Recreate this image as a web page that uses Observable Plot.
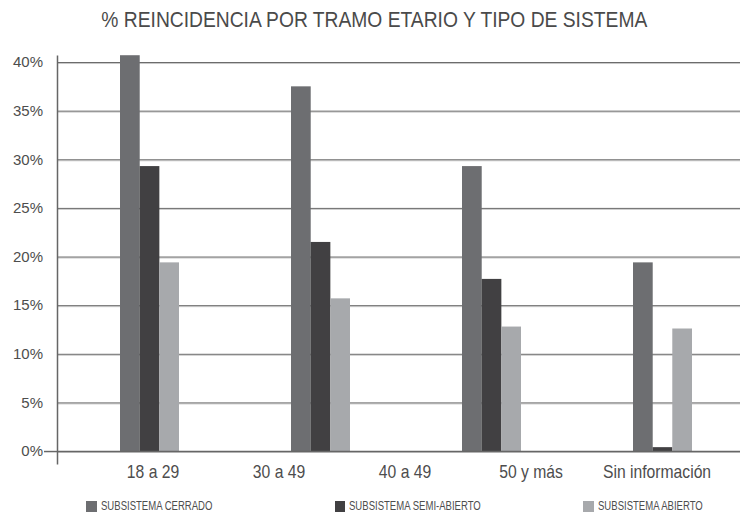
<!DOCTYPE html>
<html>
<head>
<meta charset="utf-8">
<script src="https://cdn.jsdelivr.net/npm/d3@7"></script>
<script src="https://cdn.jsdelivr.net/npm/@observablehq/plot@0.6"></script>
<style>
  body { margin: 0; background: #fff; }
  #chart { position: relative; width: 740px; height: 516px; overflow: hidden; background: #fff; color: #4d4d4d; }
  #title { position: absolute; left: 0; top: 8.9px; width: 748px; text-align: center;
           font-family: "Liberation Sans", Arial, sans-serif;
           font-size: 21.4px; line-height: 22px; color: #4a4a4a; white-space: nowrap; }
  #title span { display: inline-block; transform: scaleX(0.9); transform-origin: center; }
  .layer { position: absolute; left: 0; }
  .lg-item { position: absolute; top: 500.25px; height: 12px; display: flex; align-items: center;
             font-family: "Liberation Sans", Arial, sans-serif;
             font-size: 12.5px; line-height: 12px; color: #4d4d4d; white-space: nowrap; }
  .lg-sw { width: 10.5px; height: 10.5px; margin-right: 4.2px; flex: none; }
  .lg-tx { display: inline-block; transform: scaleX(0.764); transform-origin: left center; }
</style>
</head>
<body>
<div id="chart">
  <div id="title"><span>% REINCIDENCIA POR TRAMO ETARIO Y TIPO DE SISTEMA</span></div>
</div>
<script>
// ---- data ----
const barGroups = ["18 a 29", "30 a 49", "50 y más", "Sin información"];
const tickLabels = ["18 a 29", "30 a 49", "40 a 49", "50 y más", "Sin información"];
const seriesNames = ["SUBSISTEMA CERRADO", "SUBSISTEMA SEMI-ABIERTO", "SUBSISTEMA ABIERTO"];
const seriesColors = ["#6d6e71", "#414042", "#a7a9ac"];
const cerrado = [40.7, 37.5, 29.3, 19.4];
const semiAbierto = [29.3, 21.5, 17.7, 0.4];
const abierto = [19.4, 15.7, 12.8, 12.6];
const yTicks = [0, 5, 10, 15, 20, 25, 30, 35, 40];

const seriesValues = [cerrado, semiAbierto, abierto];
const chart = document.getElementById("chart");

// ---- main plot: bars, grid, y axis ----
const paddingInner = 0.657;
const xRange = [62.6, 749.9];
const step = (xRange[1] - xRange[0]) / barGroups.length;
const bw = step * (1 - paddingInner);

const barMarks = seriesValues.map((vals, k) =>
  Plot.barY(barGroups.map((g, i) => ({group: g, value: vals[i]})), {
    x: "group",
    y: "value",
    fill: seriesColors[k],
    insetLeft: k * bw / 3,
    insetRight: (2 - k) * bw / 3
  })
);

const gridTicks = yTicks.filter(d => d > 0);

const main = Plot.plot({
  width: 740,
  height: 470,
  marginTop: 55.7,
  marginBottom: 6.8,
  marginLeft: 57,
  marginRight: 0,
  style: {background: "transparent", fontFamily: "'Liberation Sans', Arial, sans-serif", fontSize: "15px", color: "#4d4d4d"},
  x: {type: "band", domain: barGroups, range: xRange, paddingInner, paddingOuter: paddingInner / 2, axis: null},
  y: {domain: [-1.25, 40.65], axis: null},
  marks: [
    Plot.ruleY(gridTicks, {stroke: "#cacaca", dy: 1}),
    Plot.ruleY(gridTicks, {stroke: "#6a6a6a"}),
    ...barMarks,
    Plot.ruleY([0], {stroke: "#666", strokeWidth: 1.7}),
    Plot.axisY([0], {tickSize: 13, tickFormat: () => "", label: null, stroke: "#666", strokeWidth: 1.5}),
    Plot.axisY(yTicks, {tickSize: 0, tickPadding: 14.5, tickFormat: d => d + "%", label: null}),
    Plot.frame({anchor: "left", stroke: "#666", strokeWidth: 1.5})
  ]
});
main.classList.add("layer");
main.style.top = "0px";
chart.appendChild(main);

// ---- category tick labels (as in the reference, spread over five slots) ----
const xAxisPlot = Plot.plot({
  width: 740,
  height: 30,
  marginTop: 0,
  marginBottom: 27,
  marginLeft: 0,
  marginRight: 0,
  style: {background: "transparent", fontFamily: "'Liberation Sans', Arial, sans-serif", fontSize: "19px", color: "#4d4d4d"},
  x: {type: "band", domain: tickLabels, range: [81.9, 727.9]},
  marks: [
    Plot.axisX({tickSize: 0, tickPadding: 0.5, label: null})
  ]
});
xAxisPlot.classList.add("layer");
xAxisPlot.style.top = "460.2px";
chart.appendChild(xAxisPlot);
// condensed look of the original typeface
xAxisPlot.querySelectorAll("text").forEach(t => {
  const w = t.getComputedTextLength();
  if (w > 0) {
    t.setAttribute("textLength", (w * 0.826).toFixed(2));
    t.setAttribute("lengthAdjust", "spacingAndGlyphs");
  }
});

// ---- legend ----
const legendLefts = [86, 334.7, 583];
seriesNames.forEach((name, k) => {
  const item = document.createElement("div");
  item.className = "lg-item";
  item.style.left = legendLefts[k] + "px";
  const sw = document.createElement("span");
  sw.className = "lg-sw";
  sw.style.background = seriesColors[k];
  const tx = document.createElement("span");
  tx.className = "lg-tx";
  tx.textContent = name;
  item.appendChild(sw);
  item.appendChild(tx);
  chart.appendChild(item);
});
</script>
</body>
</html>
